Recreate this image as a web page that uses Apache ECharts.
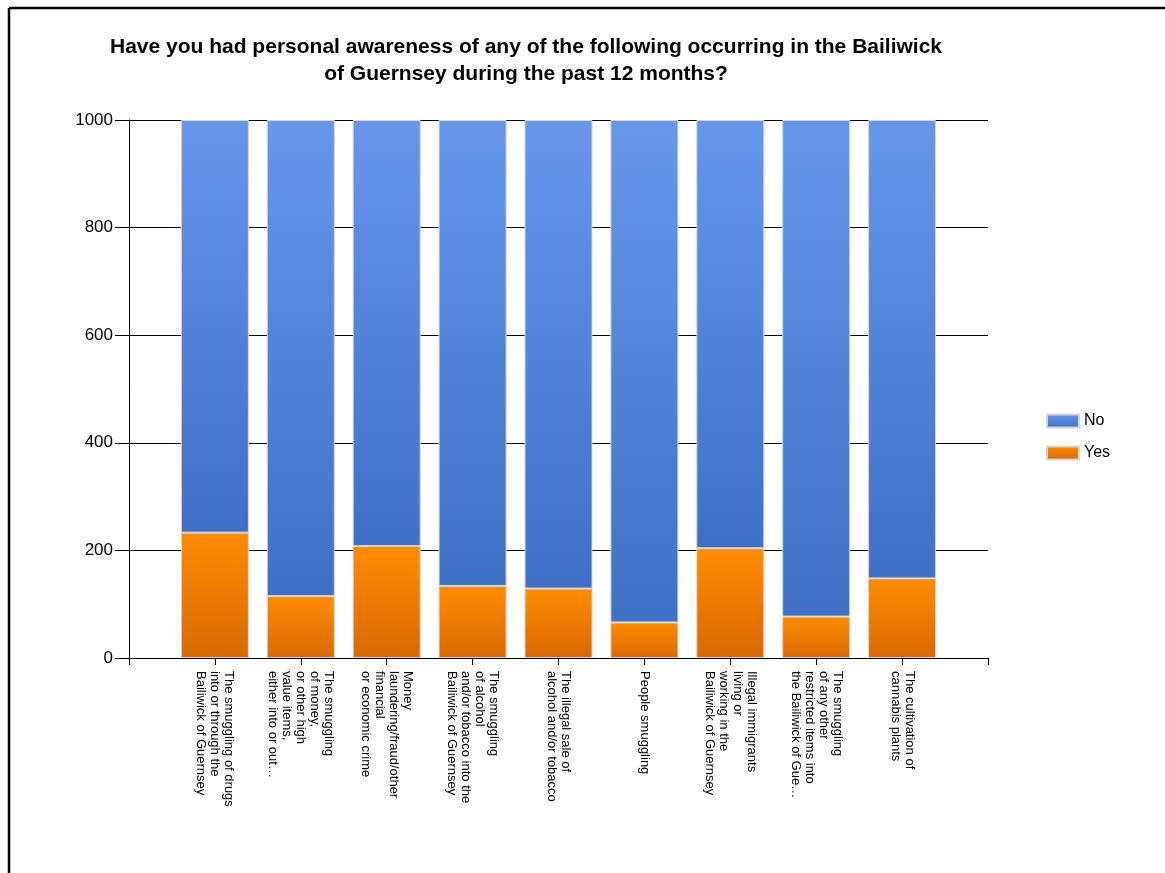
<!DOCTYPE html>
<html>
<head>
<meta charset="utf-8">
<script src="https://cdn.jsdelivr.net/npm/echarts@6/dist/echarts.min.js"></script>
<style>
html,body{margin:0;padding:0;background:#fff;}
#chart{width:1165px;height:873px;}
</style>
</head>
<body>
<div id="chart"></div>
<script>
var categories = [
  "The smuggling of drugs\ninto or through the\nBailiwick of Guernsey",
  "The smuggling\nof money,\nor other high\nvalue items,\neither into or out\u2026",
  "Money\nlaundering/fraud/other\nfinancial\nor economic crime",
  "The smuggling\nof alcohol\nand/or tobacco into the\nBailiwick of Guernsey",
  "The illegal sale of\nalcohol and/or tobacco",
  "People smuggling",
  "Illegal immigrants\nliving or\nworking in the\nBailiwick of Guernsey",
  "The smuggling\nof any other\nrestricted items into\nthe Bailiwick of Gue\u2026",
  "The cultivation of\ncannabis plants"
];
var yesValues = [233, 115, 208, 134, 129, 66, 204, 77, 148];
var noValues  = [767, 885, 792, 866, 871, 934, 796, 923, 852];
var yTicks = [0, 200, 400, 600, 800, 1000];

var axisCats = [""].concat(categories, [""]);
var yesData = ["-"].concat(yesValues, ["-"]);
var noData = ["-"].concat(noValues, ["-"]);

function grad(top, bottom){
  return new echarts.graphic.LinearGradient(0,0,0,1,[{offset:0,color:top},{offset:1,color:bottom}]);
}

var chart = echarts.init(document.getElementById('chart'));
chart.setOption({
  animation:false,
  backgroundColor:'#fff',
  title:{
    text:'Have you had personal awareness of any of the following occurring in the Bailiwick\nof Guernsey during the past 12 months?',
    left:521, textAlign:'center', top:29,
    textStyle:{fontFamily:'Liberation Sans, Arial', fontWeight:'bold', fontSize:21, lineHeight:27, color:'#000'}
  },
  legend:{
    orient:'vertical', left:1041, top:408,
    icon:'rect',
    itemWidth:32, itemHeight:13, itemGap:16,
    data:['No','Yes'],
    textStyle:{fontFamily:'Liberation Sans, Arial', fontSize:16, color:'#000'}
  },
  grid:{left:129, right:177, top:120, bottom:215, containLabel:false},
  xAxis:{
    type:'category', data:axisCats, boundaryGap:false,
    axisLine:{lineStyle:{color:'#000', width:1}},
    axisTick:{alignWithLabel:true, interval:0, length:7, lineStyle:{color:'#000'}},
    axisLabel:{interval:0, rotate:-90, margin:13, fontFamily:'Liberation Sans, Arial', fontSize:13, lineHeight:14, color:'#000'}
  },
  yAxis:{
    type:'value', min:yTicks[0], max:yTicks[yTicks.length-1], interval:200,
    axisLine:{show:true, lineStyle:{color:'#000', width:1}},
    axisTick:{show:true, length:14, lineStyle:{color:'#000'}},
    axisLabel:{margin:16, fontFamily:'Liberation Sans, Arial', fontSize:17, color:'#000', formatter:function(v){return String(v);}},
    splitLine:{show:true, lineStyle:{color:'#000', width:1}}
  },
  series:[
    {name:'Yes', type:'bar', stack:'a', data:yesData, barWidth:68,
     itemStyle:{color:grad('#FF8C00','#D96900'), borderColor:'#d4d4d4', borderWidth:1}},
    {name:'No', type:'bar', stack:'a', data:noData, barWidth:68,
     itemStyle:{color:grad('#6796EB','#3F70C6'), borderColor:'#d4d4d4', borderWidth:1}}
  ],
  graphic:[
    {type:'line', shape:{x1:9, y1:8, x2:1165, y2:8}, style:{stroke:'#000', lineWidth:2.5}},
    {type:'line', shape:{x1:9, y1:8, x2:9, y2:873}, style:{stroke:'#000', lineWidth:2.5}}
  ]
});
</script>
</body>
</html>
